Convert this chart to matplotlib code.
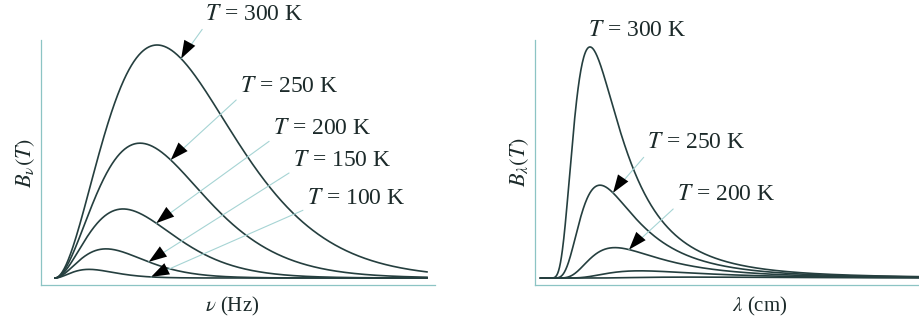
import numpy as np
import matplotlib
matplotlib.use("Agg")
import matplotlib.pyplot as plt

plt.rcParams["mathtext.fontset"] = "stix"
plt.rcParams["font.family"] = ["Liberation Serif", "DejaVu Serif"]

H = 6.626e-34   # J s
K_B = 1.381e-23  # J/K
C = 2.998e10    # cm/s

# temperatures of the plotted curves (K)
temps = [300, 250, 200, 150, 100]
labels_left = [r"$T$ = 300 K", r"$T$ = 250 K", r"$T$ = 200 K",
               r"$T$ = 150 K", r"$T$ = 100 K"]
labels_right = [r"$T$ = 300 K", r"$T$ = 250 K", r"$T$ = 200 K"]

# where each arrow touches its curve
tip_nu = [2.18e13, 2.00e13, 1.75e13, 1.62e13, 1.66e13]   # Hz
tip_lam = [None, 1.41e-3, 1.72e-3]                      # cm

# axis extents
NU_MAX = 6.43e13    # Hz
LAM_MAX = 7.34e-3   # cm

CURVE = "#253f3f"
AXIS = "#8cc4c4"
LEADER = "#a6d4d4"
TEXT = "#1c2a2a"
FS = 17


def planck_nu(nu, t):
    with np.errstate(over="ignore", divide="ignore", invalid="ignore"):
        b = nu ** 3 / np.expm1(H * nu / (K_B * t))
    return np.nan_to_num(b)


def planck_lam(lam, t):
    with np.errstate(over="ignore", divide="ignore", invalid="ignore"):
        b = lam ** -5 / np.expm1(H * C / (lam * K_B * t))
    return np.nan_to_num(b)


def style_axes(ax):
    for side in ("top", "right"):
        ax.spines[side].set_visible(False)
    for side in ("left", "bottom"):
        ax.spines[side].set_color(AXIS)
        ax.spines[side].set_linewidth(0.9)
    ax.set_xticks([])
    ax.set_yticks([])


def arrow_label(ax, text, tip, xy_px):
    # text + thin leader line, then a solid black head at the tip
    ax.annotate(text, xy=tip, xycoords="data", xytext=xy_px,
                textcoords="figure pixels", ha="left", va="center",
                fontsize=FS, color=TEXT,
                arrowprops=dict(arrowstyle="-", color=LEADER, lw=0.8,
                                relpos=(0.0, 0.0), shrinkA=1, shrinkB=0))
    ax.annotate("", xy=tip, xycoords="data", xytext=xy_px,
                textcoords="figure pixels",
                arrowprops=dict(arrowstyle="-|>,head_length=1.3,head_width=0.45",
                                fc="black", ec="none", lw=0,
                                mutation_scale=10, shrinkA=0, shrinkB=0))


fig = plt.figure(figsize=(9.2, 3.2), dpi=100)

# ---- left: B_nu ----
ax1 = fig.add_axes([41 / 920, 35 / 320, (435 - 41) / 920, 245 / 320])
nu = np.linspace(0, NU_MAX, 600)
peak1 = planck_nu(nu, temps[0]).max()
for t in temps:
    ax1.plot(nu, planck_nu(nu, t), color=CURVE, lw=1.2)
px_nu = NU_MAX / 372
ax1.set_xlim(-14 * px_nu, NU_MAX + 8 * px_nu)
ax1.set_ylim(-7 / 233 * peak1, 238 / 233 * peak1)
style_axes(ax1)
ax1.set_ylabel(r"$B_\nu(T)$", fontsize=16, labelpad=3, color=TEXT)
ax1.set_xlabel(r"$\nu$ (Hz)", fontsize=15, color=TEXT)
ax1.xaxis.set_label_coords((232 - 41) / (435 - 41), -0.04)

text_pos_left = [(205, 305), (240, 234), (273, 192), (293, 160), (307, 122)]
for t, lab, tn, pos in zip(temps, labels_left, tip_nu, text_pos_left):
    arrow_label(ax1, lab, (tn, planck_nu(np.array([tn]), t)[0]), pos)

# ---- right: B_lambda ----
ax2 = fig.add_axes([535 / 920, 35 / 320, (920 - 535) / 920, 245 / 320])
lam = np.linspace(1e-5, LAM_MAX, 800)
peak2 = planck_lam(lam, temps[0]).max()
for t in temps:
    ax2.plot(lam, planck_lam(lam, t), color=CURVE, lw=1.2)
px_lam = 9.66e-4 / 50
ax2.set_xlim(-5 * px_lam, LAM_MAX)
ax2.set_ylim(-7 / 233 * peak2, 240 / 233 * peak2)
style_axes(ax2)
ax2.set_ylabel(r"$B_\lambda(T)$", fontsize=16, labelpad=3, color=TEXT)
ax2.set_xlabel(r"$\lambda$ (cm)", fontsize=15, color=TEXT)
ax2.xaxis.set_label_coords((760 - 535) / (920 - 535), -0.04)

text_pos_right = [(588, 289), (647, 177), (677, 125)]
for t, lab, tl, pos in zip(temps, labels_right, tip_lam, text_pos_right):
    if tl is None:
        fig.text(pos[0] / 920, pos[1] / 320, lab, ha="left", va="center",
                 fontsize=FS, color=TEXT)
    else:
        arrow_label(ax2, lab, (tl, planck_lam(np.array([tl]), t)[0]), pos)

fig.savefig("out.png", dpi=100)
